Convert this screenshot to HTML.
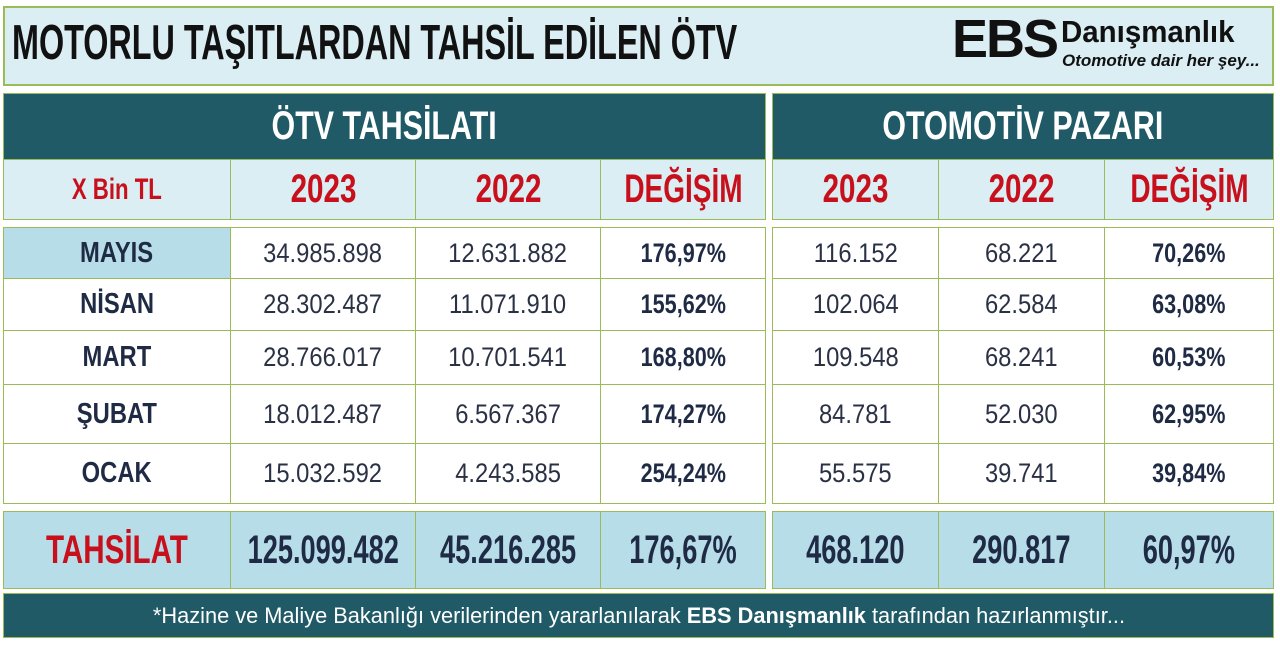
<!DOCTYPE html>
<html><head><meta charset="utf-8"><style>
body{margin:0;width:1280px;height:648px;background:#fff;position:relative;overflow:hidden;font-family:"Liberation Sans",sans-serif}
.b{position:absolute;box-sizing:border-box;white-space:nowrap}
.c{position:absolute;box-sizing:border-box;display:flex;align-items:center;justify-content:center;border:1.5px solid #9bbb59;white-space:nowrap}
.c span{display:inline-block}
.hd{background:#1f5a66;color:#fff;font-weight:bold;font-size:40px}
.hd span{transform:scaleX(0.76)}
.sub{background:#dbeef4;color:#c8101c;font-weight:bold;font-size:40px}
.sub span{transform:scaleX(0.74)}
.d{background:#fff;color:#2a3145;font-size:27px}
.d span{transform:scaleX(0.88)}
.m{font-weight:bold;font-size:29px;color:#1f2a44}
.m span{transform:scaleX(0.82)}
.p{font-weight:bold;font-size:27px;color:#1f2a44}
.p span{transform:scaleX(0.8)}
.t{background:#b7dde8;color:#1f2a44;font-weight:bold;font-size:40px}
.t span{transform:scaleX(0.68)}
</style></head><body>
<div class="b" style="left:3px;top:6px;width:1271px;height:80px;background:#dbeef4;border:2px solid #9bbb59"></div>
<div class="b" style="left:12px;top:15px;font-size:49px;font-weight:bold;color:#111;transform:scaleX(0.66);transform-origin:left center">MOTORLU TAŞITLARDAN TAHSİL EDİLEN ÖTV</div>
<div class="b" style="left:952px;top:8px;font-weight:900;font-size:54px;color:#111;letter-spacing:-2px">EBS</div>
<div class="b" style="left:1061px;top:14px;font-weight:bold;font-size:31px;color:#111;transform:scaleX(0.95);transform-origin:left center">Danışmanlık</div>
<div class="b" style="left:1062px;top:51px;font-weight:bold;font-style:italic;font-size:17px;color:#111">Otomotive dair her şey...</div>

<div class="c hd" style="left:3px;top:93px;width:763px;height:67px"><span>ÖTV TAHSİLATI</span></div>
<div class="c hd" style="left:772px;top:93px;width:502px;height:67px"><span>OTOMOTİV PAZARI</span></div>

<div class="c sub" style="left:3px;top:159px;width:228px;height:61px;font-size:30px"><span>X Bin TL</span></div>
<div class="c sub" style="left:230px;top:159px;width:186px;height:61px"><span>2023</span></div>
<div class="c sub" style="left:415px;top:159px;width:186px;height:61px"><span>2022</span></div>
<div class="c sub" style="left:600px;top:159px;width:166px;height:61px"><span style="transform:scaleX(0.7)">DEĞİŞİM</span></div>
<div class="c sub" style="left:772px;top:159px;width:167px;height:61px"><span>2023</span></div>
<div class="c sub" style="left:938px;top:159px;width:167px;height:61px"><span>2022</span></div>
<div class="c sub" style="left:1104px;top:159px;width:170px;height:61px"><span style="transform:scaleX(0.7)">DEĞİŞİM</span></div>

<div class="c d m" style="left:3px;top:227px;width:228px;height:52px;background:#b7dde8"><span>MAYIS</span></div>
<div class="c d" style="left:230px;top:227px;width:186px;height:52px"><span>34.985.898</span></div>
<div class="c d" style="left:415px;top:227px;width:186px;height:52px"><span>12.631.882</span></div>
<div class="c d p" style="left:600px;top:227px;width:166px;height:52px"><span>176,97%</span></div>
<div class="c d" style="left:772px;top:227px;width:167px;height:52px"><span>116.152</span></div>
<div class="c d" style="left:938px;top:227px;width:167px;height:52px"><span>68.221</span></div>
<div class="c d p" style="left:1104px;top:227px;width:170px;height:52px"><span>70,26%</span></div>

<div class="c d m" style="left:3px;top:278px;width:228px;height:53px"><span>NİSAN</span></div>
<div class="c d" style="left:230px;top:278px;width:186px;height:53px"><span>28.302.487</span></div>
<div class="c d" style="left:415px;top:278px;width:186px;height:53px"><span>11.071.910</span></div>
<div class="c d p" style="left:600px;top:278px;width:166px;height:53px"><span>155,62%</span></div>
<div class="c d" style="left:772px;top:278px;width:167px;height:53px"><span>102.064</span></div>
<div class="c d" style="left:938px;top:278px;width:167px;height:53px"><span>62.584</span></div>
<div class="c d p" style="left:1104px;top:278px;width:170px;height:53px"><span>63,08%</span></div>

<div class="c d m" style="left:3px;top:330px;width:228px;height:55px"><span>MART</span></div>
<div class="c d" style="left:230px;top:330px;width:186px;height:55px"><span>28.766.017</span></div>
<div class="c d" style="left:415px;top:330px;width:186px;height:55px"><span>10.701.541</span></div>
<div class="c d p" style="left:600px;top:330px;width:166px;height:55px"><span>168,80%</span></div>
<div class="c d" style="left:772px;top:330px;width:167px;height:55px"><span>109.548</span></div>
<div class="c d" style="left:938px;top:330px;width:167px;height:55px"><span>68.241</span></div>
<div class="c d p" style="left:1104px;top:330px;width:170px;height:55px"><span>60,53%</span></div>

<div class="c d m" style="left:3px;top:384px;width:228px;height:60px"><span>ŞUBAT</span></div>
<div class="c d" style="left:230px;top:384px;width:186px;height:60px"><span>18.012.487</span></div>
<div class="c d" style="left:415px;top:384px;width:186px;height:60px"><span>6.567.367</span></div>
<div class="c d p" style="left:600px;top:384px;width:166px;height:60px"><span>174,27%</span></div>
<div class="c d" style="left:772px;top:384px;width:167px;height:60px"><span>84.781</span></div>
<div class="c d" style="left:938px;top:384px;width:167px;height:60px"><span>52.030</span></div>
<div class="c d p" style="left:1104px;top:384px;width:170px;height:60px"><span>62,95%</span></div>

<div class="c d m" style="left:3px;top:443px;width:228px;height:61px"><span>OCAK</span></div>
<div class="c d" style="left:230px;top:443px;width:186px;height:61px"><span>15.032.592</span></div>
<div class="c d" style="left:415px;top:443px;width:186px;height:61px"><span>4.243.585</span></div>
<div class="c d p" style="left:600px;top:443px;width:166px;height:61px"><span>254,24%</span></div>
<div class="c d" style="left:772px;top:443px;width:167px;height:61px"><span>55.575</span></div>
<div class="c d" style="left:938px;top:443px;width:167px;height:61px"><span>39.741</span></div>
<div class="c d p" style="left:1104px;top:443px;width:170px;height:61px"><span>39,84%</span></div>

<div class="c t" style="left:3px;top:511px;width:228px;height:78px;color:#c8101c"><span style="transform:scaleX(0.74)">TAHSİLAT</span></div>
<div class="c t" style="left:230px;top:511px;width:186px;height:78px"><span>125.099.482</span></div>
<div class="c t" style="left:415px;top:511px;width:186px;height:78px"><span>45.216.285</span></div>
<div class="c t" style="left:600px;top:511px;width:166px;height:78px"><span>176,67%</span></div>
<div class="c t" style="left:772px;top:511px;width:167px;height:78px"><span>468.120</span></div>
<div class="c t" style="left:938px;top:511px;width:167px;height:78px"><span>290.817</span></div>
<div class="c t" style="left:1104px;top:511px;width:170px;height:78px"><span>60,97%</span></div>

<div class="c" style="left:3px;top:593px;width:1271px;height:45px;background:#1f5a66;color:#fff;font-size:22px"><span style="transform:scaleX(0.99)">*Hazine ve Maliye Bakanlığı verilerinden yararlanılarak <b>EBS Danışmanlık</b> tarafından hazırlanmıştır...</span></div>
</body></html>
